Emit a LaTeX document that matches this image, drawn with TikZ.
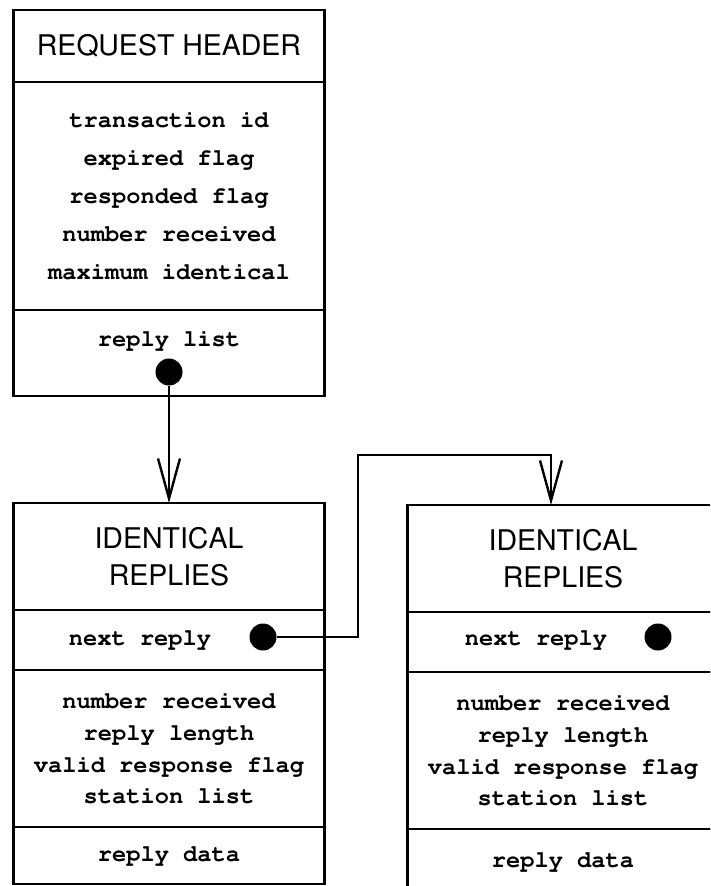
\documentclass[tikz,border=0pt]{standalone}
\usepackage[T1]{fontenc}
\usepackage{helvet}
\usepackage{courier}
\usetikzlibrary{arrows.meta, positioning}

\begin{document}
\begin{tikzpicture}[x=1pt, y=-1pt,
        box/.style={rectangle, draw, line width=2.4pt, minimum width=311pt, inner sep=0pt, outer sep=0pt},
        title/.style={font=\fontsize{28.5}{37}\selectfont\sffamily, align=center},
        field/.style={font=\fontsize{23.7}{31.7}\selectfont\ttfamily\bfseries, align=center},
        ptr/.style={circle, fill, inner sep=0pt, minimum size=27pt},
        link/.style={line width=2.4pt, -{Straight Barb[length=40pt, width=22pt, line width=2.4pt]}}
    ]
        \useasboundingbox (0,0) rectangle (710,886);
        \clip (0,0) rectangle (710,886);

        % Request header
        \node[box, title, minimum height=72pt] (rqhead) at (169,46) {REQUEST HEADER};
        \node[box, field, minimum height=228pt, below=0pt of rqhead,
              font=\fontsize{23.7}{38}\selectfont\ttfamily\bfseries] (rqfields)
              {transaction id\\expired flag\\responded flag\\number received\\maximum identical};
        \node[box, minimum height=86pt, below=0pt of rqfields] (rqlist) {};
        \node[field] (rqlistlbl) at (169,340) {reply list};
        \node[ptr] (rqptr) at (169,372) {};

        % Identical replies (first)
        \node[box, title, minimum height=107pt] (irAhead) at (169,556.5) {IDENTICAL\\REPLIES};
        \node[box, minimum height=60pt, below=0pt of irAhead] (irAnext) {};
        \node[box, field, minimum height=157pt, below=0pt of irAnext] (irAfields)
              {number received\\reply length\\valid response flag\\station list};
        \node[box, field, minimum height=57pt, below=0pt of irAfields] (irAdata) {reply data};
        \node[field] (irAnextlbl) at (140,640) {next reply};
        \node[ptr] (irAptr) at (263,637) {};

        % Identical replies (second)
        \node[box, title, minimum height=107pt] (irBhead) at (563,558.5) {IDENTICAL\\REPLIES};
        \node[box, minimum height=60pt, below=0pt of irBhead] (irBnext) {};
        \node[box, field, minimum height=157pt, below=0pt of irBnext] (irBfields)
              {number received\\reply length\\valid response flag\\station list};
        \node[box, field, minimum height=64pt, text height=12pt, text depth=-16pt, below=0pt of irBfields] (irBdata) {reply data};
        \node[field] (irBnextlbl) at (536,640) {next reply};
        \node[ptr] (irBptr) at (658,637) {};

        % Links
        \coordinate (bend) at (358,455);
        \draw[link] (rqptr.south) -- (irAhead.north);
        \draw[link] (irAptr.east) -| (bend) -| ([xshift=-12pt]irBhead.north);

\end{tikzpicture}
\end{document}
